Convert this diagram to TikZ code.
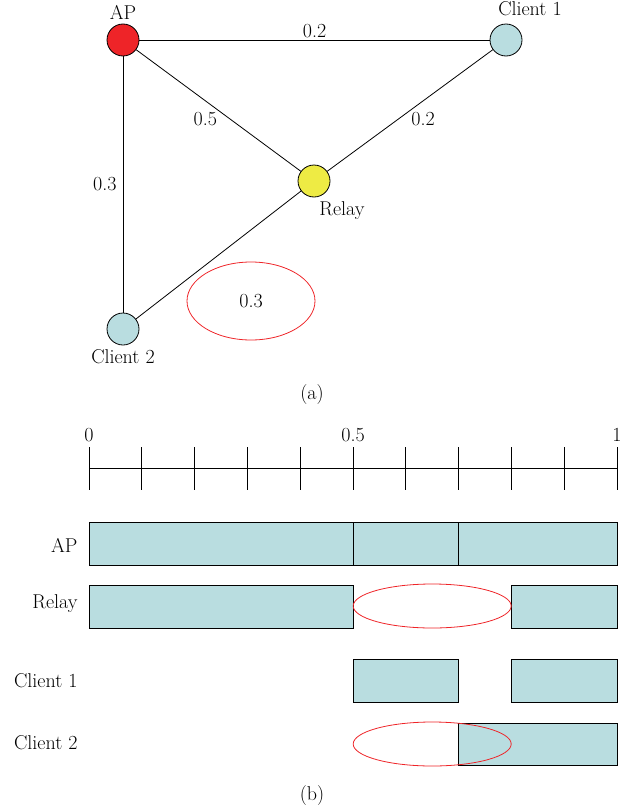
\documentclass[tikz,border=0pt]{standalone}
\usepackage{xcolor}
\usepackage{tikz}
\usetikzlibrary{shapes.geometric,calc}
\definecolor{apred}{HTML}{EE2428}
\definecolor{relayyel}{HTML}{EEEB44}
\definecolor{cltblue}{HTML}{B9DDE0}

\begin{document}
\begin{tikzpicture}[
            x=1pt,y=-1pt,
            font=\fontsize{20}{23}\selectfont,
            station/.style={circle,draw,thick,minimum size=32pt,inner sep=0pt},
            link/.style={thick},
            gap/.style={ellipse,draw=apred,thick,inner sep=0pt},
            slot/.style={draw,thick,fill=cltblue},
            rowlab/.style={anchor=east}
        ]
            \useasboundingbox (0,0) rectangle (633,811);

            % (a) topology
            \node[station,fill=apred] (ap) at (123,40) {};
            \node[station,fill=cltblue] (c1) at (506,40) {};
            \node[station,fill=relayyel] (relay) at (314,181) {};
            \node[station,fill=cltblue] (c2) at (123,329) {};
            \node (aplab) at (123,12) {AP};
            \node (c1lab) at (530,9) {Client 1};
            \node (relaylab) at (342,211) {Relay};
            \node (c2lab) at (123,357) {Client 2};
            \node[gap,minimum width=128pt,minimum height=78pt] (hole) at (251,301) {0.3};

            \draw[link] (ap) -- node[above,pos=0.5,inner sep=2pt]{0.2} (c1);
            \draw[link] (ap) -- node[below left,pos=0.5,inner sep=1pt]{0.5} (relay);
            \draw[link] (relay) -- node[below right,pos=0.5,inner sep=1pt]{0.2} (c1);
            \draw[link] (ap) -- node[left,inner sep=6pt]{0.3} (c2);
            \draw[link] (relay) -- (c2);
            \node (capa) at (312,395) {(a)};

            % (b) schedule
            \begin{scope}[shift={(89,0)},x=528pt]
                \draw[thick] (0,468) -- (1,468);
                \foreach \t in {0,...,10}
                    \draw[thick] (\t/10,447) -- (\t/10,490);
                \node (t0) at (0,435) {0};
                \node (t5) at (0.5,435) {0.5};
                \node (t10) at (1,435) {1};

                \node[rowlab] at (-0.015,545) {AP};
                \node[rowlab] at (-0.015,604) {Relay};
                \node[rowlab] at (-0.015,681) {Client 1};
                \node[rowlab] at (-0.015,743) {Client 2};

                \draw[slot] (0,522) rectangle (0.5,565);
                \draw[slot] (0.5,522) rectangle (0.7,565);
                \draw[slot] (0.7,522) rectangle (1,565);

                \draw[slot] (0,585) rectangle (0.5,628);
                \draw[slot] (0.8,585) rectangle (1,628);
                \draw[apred,thick] (0.65,606) ellipse [x radius=79pt,y radius=22pt];

                \draw[slot] (0.5,659) rectangle (0.7,702);
                \draw[slot] (0.8,659) rectangle (1,702);

                \draw[slot] (0.7,723) rectangle (1,765);
                \draw[apred,thick] (0.65,744) ellipse [x radius=79pt,y radius=22pt];
            \end{scope}
            \node (capb) at (312,795) {(b)};
        \end{tikzpicture}
\end{document}
